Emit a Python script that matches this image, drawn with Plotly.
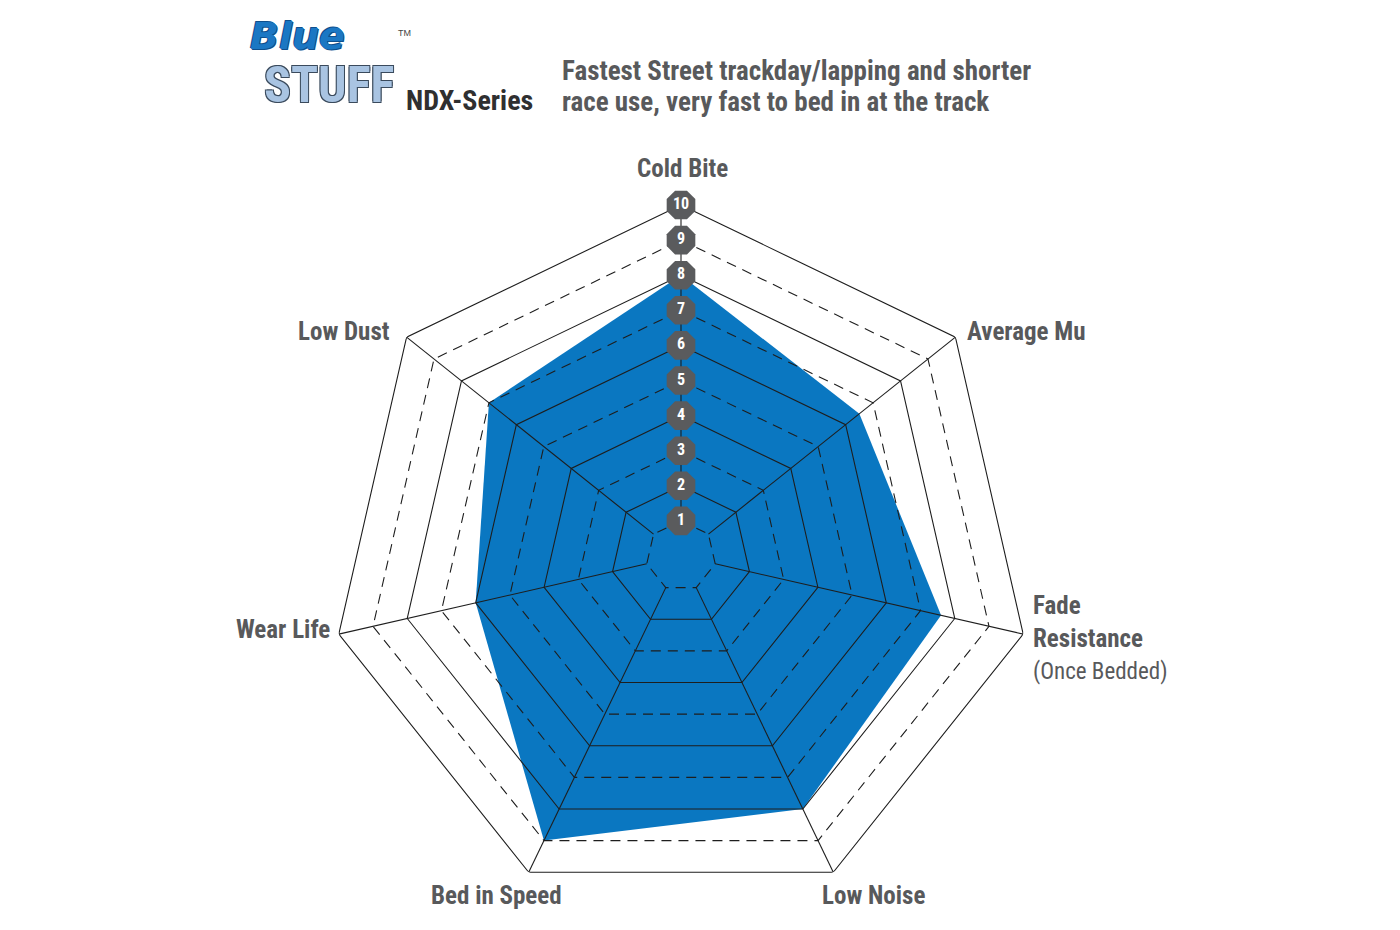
import plotly.graph_objects as go

# ---- data ----
categories = ["Cold Bite", "Average Mu", "Fade Resistance", "Low Noise",
              "Bed in Speed", "Wear Life", "Low Dust"]
values = [8, 6.5, 7.6, 8, 9, 6, 7]
levels = [1, 2, 3, 4, 5, 6, 7, 8, 9, 10]
level_labels = ["1", "2", "3", "4", "5", "6", "7", "8", "9", "10"]

FONT = "Roboto Condensed, Liberation Sans Narrow, Arial Narrow, Roboto, sans-serif"
TXT = "#58595b"
BLUE = "#0a77c1"
LINE = "#1e1e1e"

closed_theta = categories + [categories[0]]

fig = go.Figure()

# filled area
fig.add_trace(go.Scatterpolar(
    r=values + [values[0]], theta=closed_theta, mode="lines",
    fill="toself", fillcolor=BLUE, line=dict(color=BLUE, width=0),
    hoverinfo="skip", showlegend=False))

# heptagon grid: solid for even levels, dashed for odd levels
for lv in levels:
    fig.add_trace(go.Scatterpolar(
        r=[lv] * (len(categories) + 1), theta=closed_theta, mode="lines",
        line=dict(color=LINE, width=1.1,
                  dash="solid" if lv % 2 == 0 else "10px,7px"),
        hoverinfo="skip", showlegend=False))

# spokes
for c in categories:
    fig.add_trace(go.Scatterpolar(
        r=[levels[0], levels[-1]], theta=[c, c], mode="lines",
        line=dict(color=LINE, width=1.1), hoverinfo="skip", showlegend=False))

# numbered scale badges on the Cold Bite axis
fig.add_trace(go.Scatterpolar(
    r=levels, theta=[categories[0]] * len(levels), mode="markers+text",
    marker=dict(symbol="octagon", size=31, color="#5a5b5d", line=dict(width=0)),
    text=level_labels, textposition="middle center",
    textfont=dict(family=FONT, size=16, color="white", weight="bold"),
    hoverinfo="skip", showlegend=False))

W, H = 1400, 930
OX, OY = -8, -7  # compensate page body offset
cx, cy, R = 681 + OX, 555 + OY, 351

fig.update_layout(
    width=W, height=H,
    margin=dict(l=0, r=0, t=0, b=0, pad=0),
    paper_bgcolor="white", plot_bgcolor="white",
    polar=dict(
        domain=dict(x=[(cx - R) / W, (cx + R) / W],
                    y=[(H - cy - R) / H, (H - cy + R) / H]),
        bgcolor="rgba(0,0,0,0)",
        radialaxis=dict(range=[0, 10], visible=False, showgrid=False),
        angularaxis=dict(rotation=90, direction="clockwise", visible=False,
                         showgrid=False, categoryarray=categories,
                         categoryorder="array"),
    ),
)


def ann(text, px, py, size=25, xanchor="left", weight="bold", color=TXT,
        family=FONT, style="normal", shadow=None, align="left"):
    f = dict(family=family, size=size, color=color, weight=weight, style=style)
    if shadow:
        f["shadow"] = shadow
    fig.add_annotation(text=text, x=(px + OX) / W, y=1 - (py + OY) / H,
                       xref="paper", yref="paper", xanchor=xanchor,
                       yanchor="middle", showarrow=False, font=f, align=align)


# axis labels
ann("Cold Bite", 682, 168, xanchor="center")
ann("Average Mu", 965, 330)
ann("<b>Fade</b><br><b>Resistance</b><br>"
    "<span style='font-size:23px'>(Once Bedded)</span>",
    1031, 637, weight="normal")
ann("Low Noise", 820, 894)
ann("Bed in Speed", 564, 894, xanchor="right")
ann("Wear Life", 332, 628, xanchor="right")
ann("Low Dust", 392, 330, xanchor="right")

# header
ann("Fastest Street trackday/lapping and shorter", 560, 70, size=27)
ann("race use, very fast to bed in at the track", 560, 101, size=27)
ann("NDX-Series", 404, 100, size=28, color="#2f2f30")

outline = ("1px 1px 0 #3a4a5c, -1px -1px 0 #3a4a5c, "
           "1px -1px 0 #3a4a5c, -1px 1px 0 #3a4a5c")
ann("STUFF", 262, 84, size=50, color="#a9c4e2", family=FONT, shadow=outline)
ann("Blue", 248, 35, size=38, color="#1b77c3", style="italic",
    family="DejaVu Sans, sans-serif",
    shadow="1px 1px 0 #0f4f8c, -1px -1px 0 #0f4f8c")
ann("TM", 396, 32, size=9, color="#444", weight="normal",
    family="Liberation Sans, Arial, sans-serif")

fig.write_html("out.html")
